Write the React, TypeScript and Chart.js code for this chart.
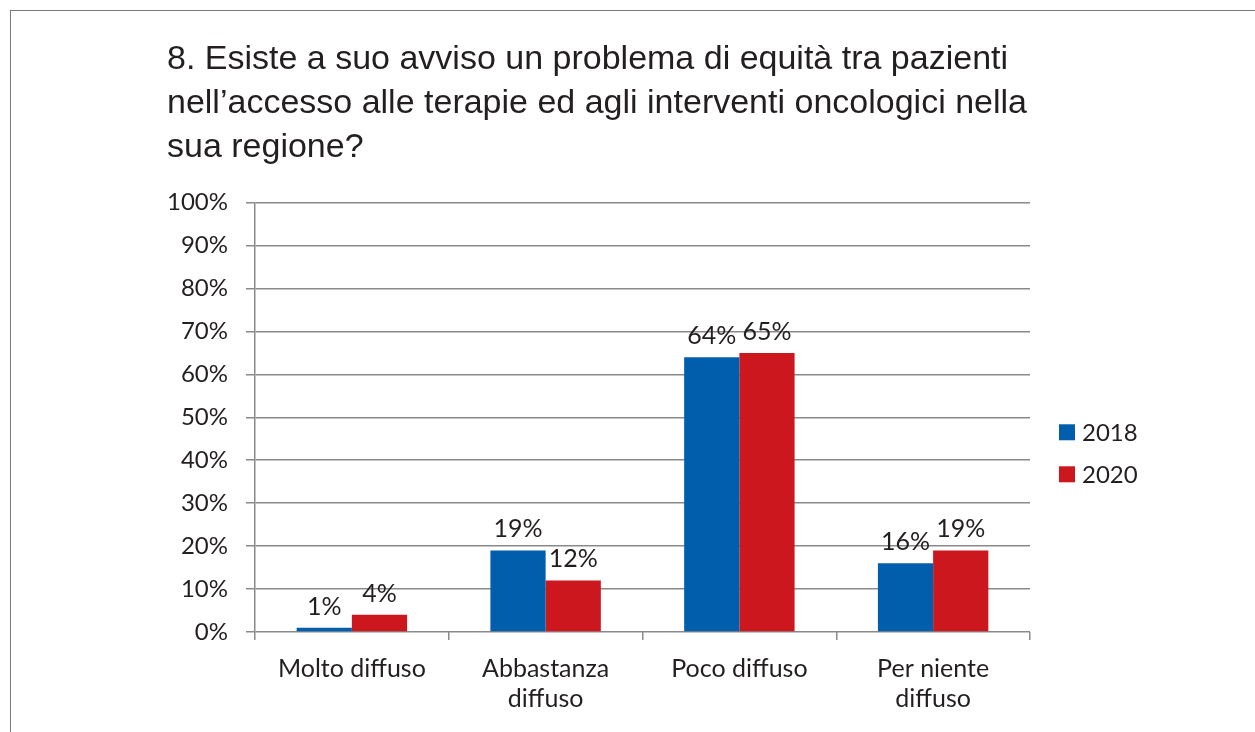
import React, { useEffect, useRef } from "react";
import { Chart, registerables } from "chart.js";

Chart.register(...registerables);

const titleLines = [
  "8. Esiste a suo avviso un problema di equità tra pazienti",
  "nell’accesso alle terapie ed agli interventi oncologici nella",
  "sua regione?",
];
const categories = [
  ["Molto diffuso"],
  ["Abbastanza", "diffuso"],
  ["Poco diffuso"],
  ["Per niente", "diffuso"],
];
const seriesNames = ["2018", "2020"];
const values2018 = [1, 19, 64, 16];
const values2020 = [4, 12, 65, 19];
const yTicks = [0, 10, 20, 30, 40, 50, 60, 70, 80, 90, 100];

const BLUE = "#005ead";
const RED = "#cd171f";
const TEXT = "#231f20";
const GRID = "#8a8a8a";
const LABEL_FONT = "Lato";
const X_SIZE = 25;
const Y_SIZE = 24;

const dataLabels = {
  id: "dataLabels",
  afterDatasetsDraw(chart: any) {
    const ctx = chart.ctx;
    ctx.save();
    ctx.font = `${X_SIZE}px ${LABEL_FONT}`;
    ctx.fillStyle = TEXT;
    ctx.textAlign = "center";
    ctx.textBaseline = "alphabetic";
    chart.data.datasets.forEach((ds: any, i: number) => {
      const meta = chart.getDatasetMeta(i);
      meta.data.forEach((bar: any, j: number) => {
        ctx.fillText(`${ds.data[j]}%`, bar.x, bar.y - 13);
      });
    });
    ctx.restore();
  },
};

const sideLegend = {
  id: "sideLegend",
  afterDraw(chart: any) {
    const ctx = chart.ctx;
    const area = chart.chartArea;
    ctx.save();
    ctx.font = `${Y_SIZE}px ${LABEL_FONT}`;
    ctx.textAlign = "left";
    ctx.textBaseline = "middle";
    const x = area.right + 29;
    const yStart = (area.top + area.bottom) / 2 + 15;
    chart.data.datasets.forEach((ds: any, i: number) => {
      const y = yStart + i * 42;
      ctx.fillStyle = ds.backgroundColor;
      ctx.fillRect(x, y - 8, 16, 16);
      ctx.fillStyle = TEXT;
      ctx.fillText(ds.label, x + 23, y + 1);
    });
    ctx.restore();
  },
};

export default function App() {
  const ref = useRef<HTMLCanvasElement>(null);

  useEffect(() => {
    document.body.style.margin = "0";
    const chart = new Chart(ref.current!, {
      type: "bar",
      data: {
        labels: categories as any,
        datasets: [
          {
            label: seriesNames[0],
            data: values2018,
            backgroundColor: BLUE,
            borderWidth: 0,
            categoryPercentage: 0.57,
            barPercentage: 1.0,
          },
          {
            label: seriesNames[1],
            data: values2020,
            backgroundColor: RED,
            borderWidth: 0,
            categoryPercentage: 0.57,
            barPercentage: 1.0,
          },
        ],
      },
      options: {
        responsive: false,
        animation: false,
        layout: { padding: { left: 167, right: 225, top: 0, bottom: 0 } },
        plugins: {
          legend: { display: false },
          tooltip: { enabled: false },
          title: {
            display: true,
            text: titleLines,
            align: "start",
            color: TEXT,
            font: { family: "Liberation Sans", size: 34, weight: "normal", lineHeight: 1.29 },
            padding: { top: 38, bottom: 33 },
          },
        },
        scales: {
          x: {
            grid: {
              display: true,
              drawOnChartArea: false,
              offset: true,
              tickLength: 8,
              color: GRID,
              lineWidth: 1.5,
            },
            border: { display: false },
            ticks: {
              color: TEXT,
              font: { family: LABEL_FONT, size: X_SIZE, lineHeight: 1.2 },
              padding: 14,
              maxRotation: 0,
              autoSkip: false,
            },
            afterFit(scale: any) {
              scale.height = 100;
            },
          } as any,
          y: {
            min: 0,
            max: 100,
            afterBuildTicks(scale: any) {
              scale.ticks = yTicks.map((v) => ({ value: v }));
            },
            grid: { color: GRID, lineWidth: 1.5, tickLength: 9 },
            border: { display: true, color: GRID, width: 1.5 },
            ticks: {
              color: TEXT,
              font: { family: LABEL_FONT, size: Y_SIZE },
              padding: 18,
              callback: (v: any) => `${v}%`,
            },
            afterFit(scale: any) {
              scale.width = 88;
            },
          },
        },
      },
      plugins: [dataLabels, sideLegend],
    });
    return () => chart.destroy();
  }, []);

  return (
    <div style={{ position: "fixed", left: 0, top: 0, width: 1255, height: 732, background: "#fff" }}>
      <div
        style={{
          position: "absolute",
          left: 10,
          top: 10,
          width: 1245,
          height: 722,
          borderTop: "1.5px solid #7a7a7a",
          borderLeft: "1.5px solid #7a7a7a",
        }}
      />
      <canvas ref={ref} width={1255} height={732} style={{ position: "absolute", left: 0, top: 0 }} />
    </div>
  );
}
